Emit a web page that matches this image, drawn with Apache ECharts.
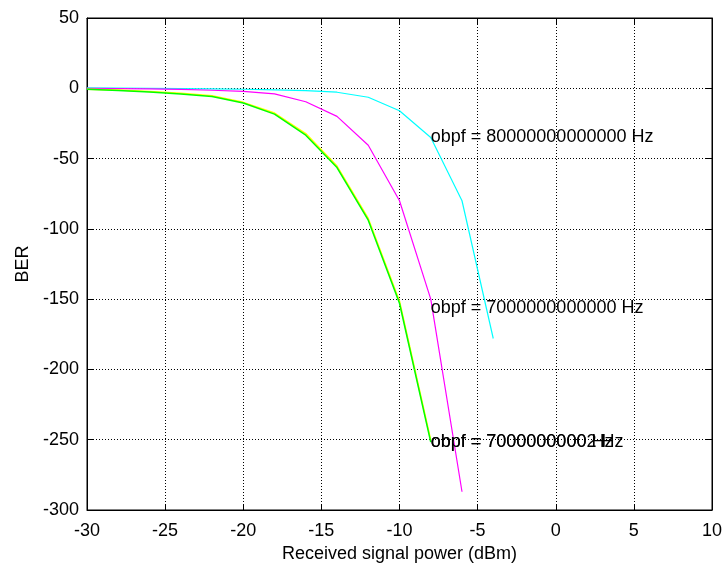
<!DOCTYPE html>
<html>
<head>
<meta charset="utf-8">
<script src="https://cdn.jsdelivr.net/npm/echarts@6/dist/echarts.min.js"></script>
<style>
  html, body { margin: 0; padding: 0; background: #fff; }
  #chart { width: 724px; height: 563px; }
</style>
</head>
<body>
<div id="chart"></div>
<script>
// Received power sweep (dBm)
const powerLong = [-30, -28, -26, -24, -22, -20, -18, -16, -14, -12, -10, -8, -6, -4];
const powerMid = [-30, -28, -26, -24, -22, -20, -18, -16, -14, -12, -10, -8, -6];
const powerShort = [-30, -28, -26, -24, -22, -20, -18, -16, -14, -12, -10, -8];

// BER curves for each optical bandpass filter setting
const berCyan = [0.3, 0.2, 0, -0.2, -0.4, -0.7, -1.1, -1.7, -2.8, -6.4, -16, -35, -80, -178];
const berMagenta = [0, -0.2, -0.4, -0.8, -1.4, -2.2, -4, -9.6, -20, -40.5, -80, -150, -287];
const berYellow = [-0.6, -1.3, -2.3, -3.6, -5.3, -10, -17.6, -32.2, -55.3, -92.6, -151.5, -250.3];
const berGreen = [-0.7, -1.5, -2.6, -4, -5.8, -10.5, -18.4, -33.4, -56.4, -93.8, -152.9, -251.7];

// Text annotations
const labelX = [-8, -8, -8, -8];
const labelY = [-35, -156, -252, -252];
const labelText = [
  'obpf = 80000000000000 Hz',
  'obpf = 7000000000000 Hz',
  'obpf = 7000000000 Hz',
  'obpf = 70000000002 Hz'
];

// Axis ticks
const xMin = -30, xMax = 10, xStep = 5;
const yMin = -300, yMax = 50, yStep = 50;

const FONT = 'Liberation Sans, Arial, sans-serif';

function pairs(xs, ys) { return xs.map((x, i) => [x, ys[i]]); }

const chart = echarts.init(document.getElementById('chart'));

const gridLine = { show: true, lineStyle: { color: '#000', type: [1, 2], width: 1 } };

chart.setOption({
  animation: false,
  backgroundColor: '#fff',
  grid: {
    left: 87, right: 12, top: 18, bottom: 53,
    containLabel: false, outerBoundsMode: 'none',
    show: true, borderColor: '#000', borderWidth: 1, backgroundColor: '#fff'
  },
  xAxis: [{
    type: 'value', min: xMin, max: xMax, interval: xStep,
    name: 'Received signal power (dBm)', nameLocation: 'middle', nameGap: 34,
    nameTextStyle: { color: '#000', fontSize: 18, fontFamily: FONT },
    axisLine: { show: true, onZero: false, lineStyle: { color: '#000' } },
    axisTick: { show: true, inside: true, length: 6, lineStyle: { color: '#000' } },
    axisLabel: { color: '#000', fontSize: 18, fontFamily: FONT, margin: 12 },
    splitLine: gridLine
  }, {
    type: 'value', min: xMin, max: xMax, interval: xStep, position: 'top',
    axisLine: { show: true, onZero: false, lineStyle: { color: '#000' } },
    axisTick: { show: true, inside: true, length: 6, lineStyle: { color: '#000' } },
    axisLabel: { show: false }, splitLine: { show: false }
  }],
  yAxis: [{
    type: 'value', min: yMin, max: yMax, interval: yStep,
    name: 'BER', nameLocation: 'middle', nameGap: 55,
    nameTextStyle: { color: '#000', fontSize: 18, fontFamily: FONT },
    axisLine: { show: true, onZero: false, lineStyle: { color: '#000' } },
    axisTick: { show: true, inside: true, length: 6, lineStyle: { color: '#000' } },
    axisLabel: { color: '#000', fontSize: 18, fontFamily: FONT, margin: 8 },
    splitLine: gridLine
  }, {
    type: 'value', min: yMin, max: yMax, interval: yStep, position: 'right',
    axisLine: { show: true, onZero: false, lineStyle: { color: '#000' } },
    axisTick: { show: true, inside: true, length: 6, lineStyle: { color: '#000' } },
    axisLabel: { show: false }, splitLine: { show: false }
  }],
  series: [
    { type: 'line', data: pairs(powerLong, berCyan), showSymbol: false, lineStyle: { color: '#00ffff', width: 1.2 }, z: 3 },
    { type: 'line', data: pairs(powerMid, berMagenta), showSymbol: false, lineStyle: { color: '#ff00ff', width: 1.2 }, z: 3 },
    { type: 'line', data: pairs(powerShort, berYellow), showSymbol: false, lineStyle: { color: '#ffff00', width: 1.5 }, z: 3 },
    { type: 'line', data: pairs(powerShort, berGreen), showSymbol: false, lineStyle: { color: '#00ff00', width: 1.5 }, z: 4 },
    {
      type: 'scatter', symbolSize: 0, z: 5, itemStyle: { opacity: 1 },
      data: labelX.map((x, i) => ({ value: [x, labelY[i]], name: labelText[i] })),
      label: {
        show: true, position: 'right', distance: 0, opacity: 1,
        textBorderWidth: 0, textShadowBlur: 0,
        formatter: p => p.name, color: '#000', fontSize: 18, fontFamily: FONT
      }
    }
  ]
});
</script>
</body>
</html>
